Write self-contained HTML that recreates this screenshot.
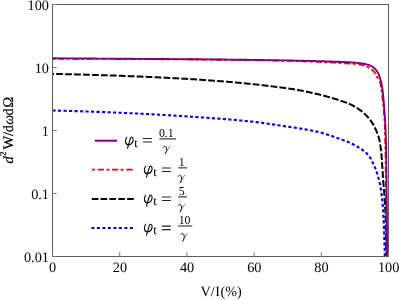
<!DOCTYPE html>
<html><head><meta charset="utf-8"><style>
html,body{margin:0;padding:0;background:#fff;}
body{width:399px;height:300px;overflow:hidden;}
svg{display:block;}
text{font-family:"Liberation Serif",serif;fill:#000;text-rendering:geometricPrecision;}
</style></head><body>
<svg width="399" height="300" viewBox="0 0 399 300">
<defs><filter id="ga" filterUnits="userSpaceOnUse" x="0" y="0" width="399" height="300"><feOffset dx="0" dy="0"/></filter></defs>
<rect width="399" height="300" fill="#fff"/>

<g fill="none" stroke-linejoin="round">
<path d="M52.50,110.50 L53.57,110.52 L54.64,110.55 L55.71,110.57 L56.78,110.60 L57.85,110.63 L58.92,110.65 L59.99,110.68 L61.05,110.71 L62.12,110.73 L63.19,110.76 L64.26,110.79 L65.33,110.82 L66.40,110.85 L67.47,110.88 L68.54,110.91 L69.61,110.94 L70.68,110.97 L71.75,111.00 L72.82,111.04 L73.88,111.07 L74.95,111.10 L76.02,111.13 L77.09,111.17 L78.16,111.20 L79.23,111.23 L80.30,111.27 L81.37,111.30 L82.44,111.34 L83.51,111.37 L84.57,111.41 L85.64,111.45 L86.71,111.48 L87.78,111.52 L88.85,111.56 L89.92,111.59 L90.99,111.63 L92.06,111.67 L93.13,111.71 L94.19,111.75 L95.26,111.79 L96.33,111.83 L97.40,111.87 L98.47,111.91 L99.54,111.95 L100.61,111.99 L101.67,112.03 L102.74,112.07 L103.81,112.11 L104.88,112.15 L105.95,112.19 L107.02,112.24 L108.09,112.28 L109.15,112.32 L110.22,112.36 L111.29,112.41 L112.36,112.45 L113.43,112.49 L114.50,112.54 L115.57,112.58 L116.63,112.63 L117.70,112.67 L118.77,112.72 L119.84,112.76 L120.91,112.81 L121.98,112.85 L123.04,112.90 L124.11,112.94 L125.18,112.99 L126.25,113.04 L127.32,113.08 L128.39,113.13 L129.45,113.18 L130.52,113.22 L131.59,113.27 L132.66,113.32 L133.73,113.37 L134.79,113.42 L135.86,113.47 L136.93,113.52 L138.00,113.57 L139.07,113.62 L140.13,113.67 L141.20,113.72 L142.27,113.78 L143.34,113.83 L144.41,113.88 L145.47,113.94 L146.54,113.99 L147.61,114.05 L148.68,114.11 L149.75,114.16 L150.81,114.22 L151.88,114.28 L152.95,114.34 L154.02,114.39 L155.09,114.45 L156.15,114.51 L157.22,114.57 L158.29,114.63 L159.36,114.69 L160.43,114.75 L161.49,114.82 L162.56,114.88 L163.63,114.94 L164.70,115.00 L165.76,115.07 L166.83,115.13 L167.90,115.20 L168.97,115.26 L170.04,115.33 L171.10,115.39 L172.17,115.46 L173.24,115.52 L174.31,115.59 L175.37,115.66 L176.44,115.72 L177.51,115.79 L178.58,115.86 L179.64,115.93 L180.71,116.00 L181.78,116.07 L182.84,116.13 L183.91,116.20 L184.98,116.27 L186.05,116.34 L187.11,116.42 L188.18,116.49 L189.25,116.56 L190.32,116.63 L191.38,116.70 L192.45,116.77 L193.52,116.85 L194.58,116.92 L195.65,116.99 L196.72,117.07 L197.78,117.14 L198.85,117.21 L199.92,117.29 L200.98,117.36 L202.05,117.44 L203.12,117.51 L204.19,117.59 L205.25,117.66 L206.32,117.74 L207.38,117.81 L208.45,117.89 L209.52,117.97 L210.58,118.04 L211.65,118.12 L212.72,118.20 L213.78,118.27 L214.85,118.35 L215.92,118.43 L216.98,118.51 L218.05,118.59 L219.12,118.67 L220.18,118.75 L221.25,118.83 L222.32,118.91 L223.38,119.00 L224.45,119.08 L225.52,119.17 L226.58,119.25 L227.65,119.34 L228.72,119.42 L229.78,119.51 L230.85,119.60 L231.92,119.69 L232.98,119.78 L234.05,119.87 L235.11,119.97 L236.18,120.06 L237.24,120.16 L238.31,120.25 L239.37,120.35 L240.44,120.45 L241.50,120.55 L242.57,120.65 L243.63,120.75 L244.70,120.86 L245.76,120.96 L246.82,121.07 L247.89,121.18 L248.95,121.29 L250.01,121.40 L251.07,121.52 L252.14,121.63 L253.20,121.75 L254.26,121.88 L255.32,122.00 L256.38,122.13 L257.44,122.27 L258.50,122.40 L259.56,122.54 L260.62,122.68 L261.68,122.82 L262.74,122.96 L263.80,123.11 L264.86,123.26 L265.92,123.41 L266.98,123.56 L268.04,123.71 L269.09,123.87 L270.15,124.02 L271.21,124.18 L272.27,124.34 L273.33,124.49 L274.39,124.65 L275.44,124.81 L276.50,124.97 L277.56,125.13 L278.62,125.29 L279.68,125.45 L280.73,125.61 L281.79,125.77 L282.85,125.93 L283.91,126.09 L284.97,126.25 L286.02,126.41 L287.08,126.57 L288.14,126.73 L289.20,126.88 L290.26,127.04 L291.32,127.19 L292.37,127.34 L293.43,127.50 L294.49,127.65 L295.55,127.80 L296.61,127.96 L297.66,128.12 L298.72,128.29 L299.78,128.46 L300.83,128.64 L301.88,128.82 L302.94,129.00 L303.99,129.18 L305.05,129.36 L306.10,129.55 L307.16,129.74 L308.21,129.93 L309.27,130.12 L310.32,130.32 L311.37,130.53 L312.42,130.73 L313.47,130.95 L314.52,131.16 L315.56,131.39 L316.61,131.61 L317.65,131.85 L318.69,132.09 L319.72,132.33 L320.76,132.59 L321.79,132.86 L322.82,133.15 L323.85,133.45 L324.87,133.75 L325.90,134.07 L326.92,134.40 L327.94,134.73 L328.95,135.06 L329.97,135.39 L330.98,135.73 L332.00,136.07 L333.00,136.43 L334.01,136.79 L335.02,137.15 L336.02,137.52 L337.03,137.89 L338.03,138.27 L339.03,138.64 L340.03,139.01 L341.04,139.38 L342.05,139.74 L343.06,140.10 L344.07,140.46 L345.08,140.83 L346.08,141.20 L347.08,141.58 L348.07,141.98 L349.06,142.39 L350.03,142.81 L351.00,143.26 L351.96,143.72 L352.91,144.20 L353.87,144.70 L354.81,145.21 L355.75,145.73 L356.68,146.26 L357.61,146.81 L358.52,147.37 L359.43,147.93 L360.32,148.51 L361.21,149.10 L362.11,149.70 L362.99,150.33 L363.85,150.97 L364.69,151.64 L365.49,152.33 L366.26,153.05 L367.01,153.81 L367.73,154.61 L368.42,155.44 L369.09,156.30 L369.71,157.16 L370.29,158.05 L370.83,158.95 L371.35,159.88 L371.84,160.84 L372.32,161.80 L372.78,162.77 L373.24,163.75 L373.69,164.73 L374.14,165.70 L374.59,166.67 L375.03,167.64 L375.46,168.63 L375.86,169.62 L376.22,170.62 L376.57,171.63 L376.90,172.65 L377.21,173.67 L377.51,174.70 L377.81,175.73 L378.10,176.76 L378.39,177.79 L378.68,178.82 L378.96,179.85 L379.23,180.89 L379.48,181.93 L379.72,182.97 L379.94,184.01 L380.14,185.06 L380.33,186.11 L380.51,187.17 L380.69,188.22 L380.85,189.28 L381.00,190.34 L381.15,191.40 L381.30,192.46 L381.44,193.52 L381.57,194.58 L381.71,195.64 L381.84,196.70 L381.97,197.77 L382.10,198.83 L382.22,199.89 L382.33,200.95 L382.44,202.02 L382.55,203.08 L382.65,204.15 L382.74,205.21 L382.82,206.28 L382.90,207.34 L382.97,208.41 L383.04,209.48 L383.11,210.55 L383.17,211.61 L383.23,212.68 L383.29,213.75 L383.35,214.82 L383.40,215.89 L383.45,216.95 L383.51,218.02 L383.56,219.09 L383.61,220.16 L383.66,221.23 L383.71,222.30 L383.75,223.36 L383.80,224.43 L383.84,225.50 L383.89,226.57 L383.93,227.64 L383.97,228.71 L384.01,229.78 L384.05,230.84 L384.09,231.91 L384.13,232.98 L384.17,234.05 L384.20,235.12 L384.24,236.19 L384.27,237.26 L384.31,238.33 L384.34,239.39 L384.38,240.46 L384.41,241.53 L384.44,242.60 L384.47,243.67 L384.50,244.74 L384.54,245.81 L384.57,246.88 L384.59,247.95 L384.62,249.02 L384.65,250.08 L384.68,251.15 L384.70,252.22 L384.73,253.29 L384.75,254.36 L384.78,255.43 L384.80,256.50" stroke="#0000ff" stroke-width="2.1" stroke-dasharray="3.2 2.3"/>
<path d="M52.50,73.90 L53.67,73.92 L54.83,73.94 L56.00,73.96 L57.16,73.98 L58.33,74.01 L59.49,74.03 L60.66,74.05 L61.82,74.08 L62.99,74.10 L64.15,74.13 L65.32,74.15 L66.48,74.18 L67.65,74.20 L68.81,74.23 L69.98,74.26 L71.14,74.29 L72.31,74.31 L73.47,74.34 L74.64,74.37 L75.80,74.40 L76.97,74.43 L78.13,74.46 L79.30,74.49 L80.46,74.52 L81.63,74.55 L82.79,74.59 L83.96,74.62 L85.12,74.65 L86.29,74.68 L87.45,74.72 L88.62,74.75 L89.78,74.78 L90.95,74.82 L92.11,74.85 L93.28,74.89 L94.44,74.93 L95.61,74.96 L96.77,75.00 L97.94,75.03 L99.10,75.07 L100.27,75.11 L101.43,75.15 L102.60,75.18 L103.76,75.22 L104.93,75.26 L106.09,75.30 L107.25,75.34 L108.42,75.38 L109.58,75.42 L110.75,75.46 L111.91,75.50 L113.08,75.54 L114.24,75.58 L115.41,75.62 L116.57,75.66 L117.73,75.70 L118.90,75.74 L120.06,75.78 L121.23,75.83 L122.39,75.87 L123.56,75.91 L124.72,75.95 L125.89,76.00 L127.05,76.04 L128.21,76.08 L129.38,76.13 L130.54,76.17 L131.71,76.21 L132.87,76.26 L134.04,76.30 L135.20,76.35 L136.36,76.40 L137.53,76.44 L138.69,76.49 L139.86,76.54 L141.02,76.59 L142.19,76.63 L143.35,76.68 L144.52,76.73 L145.68,76.78 L146.84,76.83 L148.01,76.88 L149.17,76.94 L150.34,76.99 L151.50,77.04 L152.67,77.09 L153.83,77.15 L155.00,77.20 L156.16,77.26 L157.32,77.31 L158.49,77.37 L159.65,77.42 L160.82,77.48 L161.98,77.54 L163.15,77.60 L164.31,77.65 L165.47,77.71 L166.64,77.77 L167.80,77.83 L168.97,77.89 L170.13,77.95 L171.30,78.02 L172.46,78.08 L173.62,78.14 L174.79,78.20 L175.95,78.27 L177.12,78.33 L178.28,78.40 L179.44,78.46 L180.61,78.53 L181.77,78.60 L182.93,78.66 L184.10,78.73 L185.26,78.80 L186.42,78.87 L187.59,78.94 L188.75,79.01 L189.91,79.08 L191.08,79.15 L192.24,79.22 L193.40,79.30 L194.56,79.37 L195.73,79.44 L196.89,79.52 L198.05,79.59 L199.22,79.67 L200.38,79.75 L201.54,79.82 L202.70,79.90 L203.86,79.98 L205.03,80.06 L206.19,80.14 L207.35,80.22 L208.51,80.30 L209.67,80.38 L210.83,80.46 L211.99,80.54 L213.16,80.63 L214.32,80.71 L215.48,80.80 L216.64,80.88 L217.80,80.97 L218.97,81.06 L220.13,81.15 L221.29,81.24 L222.45,81.33 L223.61,81.43 L224.78,81.52 L225.94,81.62 L227.10,81.71 L228.26,81.81 L229.42,81.91 L230.59,82.01 L231.75,82.11 L232.91,82.21 L234.07,82.32 L235.23,82.42 L236.40,82.53 L237.56,82.63 L238.72,82.74 L239.88,82.85 L241.04,82.96 L242.20,83.07 L243.36,83.18 L244.53,83.29 L245.69,83.41 L246.85,83.52 L248.01,83.64 L249.17,83.76 L250.33,83.88 L251.49,84.00 L252.65,84.12 L253.81,84.24 L254.97,84.37 L256.13,84.49 L257.29,84.62 L258.45,84.74 L259.61,84.87 L260.77,85.00 L261.93,85.13 L263.08,85.27 L264.24,85.40 L265.40,85.53 L266.56,85.67 L267.72,85.81 L268.87,85.95 L270.03,86.08 L271.19,86.23 L272.34,86.37 L273.50,86.51 L274.66,86.66 L275.81,86.80 L276.97,86.95 L278.12,87.10 L279.28,87.25 L280.43,87.40 L281.58,87.55 L282.74,87.70 L283.89,87.86 L285.04,88.01 L286.20,88.17 L287.35,88.33 L288.50,88.49 L289.65,88.65 L290.80,88.82 L291.95,88.99 L293.10,89.17 L294.25,89.35 L295.40,89.54 L296.55,89.74 L297.70,89.95 L298.85,90.16 L299.99,90.37 L301.14,90.59 L302.29,90.81 L303.43,91.04 L304.57,91.27 L305.72,91.50 L306.86,91.74 L308.00,91.98 L309.14,92.22 L310.28,92.46 L311.41,92.71 L312.55,92.96 L313.69,93.21 L314.82,93.48 L315.96,93.74 L317.09,94.01 L318.23,94.29 L319.36,94.57 L320.49,94.85 L321.62,95.14 L322.75,95.44 L323.88,95.73 L325.00,96.03 L326.13,96.33 L327.25,96.64 L328.38,96.95 L329.50,97.26 L330.62,97.57 L331.74,97.90 L332.86,98.23 L333.97,98.56 L335.09,98.91 L336.20,99.26 L337.31,99.61 L338.42,99.97 L339.52,100.34 L340.63,100.71 L341.73,101.08 L342.84,101.46 L343.95,101.84 L345.05,102.23 L346.15,102.63 L347.24,103.04 L348.32,103.47 L349.39,103.93 L350.44,104.40 L351.49,104.90 L352.53,105.43 L353.57,105.97 L354.60,106.54 L355.62,107.13 L356.62,107.74 L357.61,108.36 L358.58,109.01 L359.53,109.66 L360.46,110.34 L361.38,111.04 L362.29,111.77 L363.18,112.53 L364.06,113.31 L364.92,114.12 L365.76,114.94 L366.59,115.77 L367.38,116.62 L368.16,117.48 L368.91,118.36 L369.64,119.26 L370.36,120.19 L371.05,121.14 L371.71,122.11 L372.34,123.09 L372.94,124.07 L373.53,125.08 L374.09,126.10 L374.63,127.14 L375.15,128.19 L375.65,129.25 L376.12,130.32 L376.56,131.39 L376.99,132.47 L377.42,133.56 L377.83,134.66 L378.22,135.77 L378.58,136.88 L378.91,138.00 L379.20,139.12 L379.45,140.25 L379.68,141.38 L379.89,142.52 L380.09,143.67 L380.27,144.82 L380.45,145.98 L380.61,147.13 L380.77,148.29 L380.91,149.46 L381.05,150.62 L381.18,151.78 L381.30,152.94 L381.41,154.10 L381.52,155.26 L381.61,156.42 L381.71,157.58 L381.80,158.74 L381.88,159.91 L381.96,161.07 L382.03,162.23 L382.11,163.40 L382.18,164.56 L382.26,165.72 L382.33,166.89 L382.40,168.05 L382.48,169.21 L382.55,170.38 L382.61,171.54 L382.68,172.70 L382.74,173.87 L382.81,175.03 L382.88,176.19 L382.96,177.36 L383.04,178.52 L383.12,179.68 L383.22,180.84 L383.32,182.00 L383.42,183.16 L383.52,184.32 L383.62,185.49 L383.73,186.65 L383.83,187.81 L383.92,188.97 L384.01,190.13 L384.10,191.29 L384.18,192.45 L384.27,193.62 L384.36,194.78 L384.45,195.94 L384.53,197.10 L384.62,198.27 L384.70,199.43 L384.78,200.59 L384.86,201.75 L384.93,202.92 L385.00,204.08 L385.06,205.24 L385.13,206.41 L385.18,207.57 L385.23,208.73 L385.28,209.90 L385.32,211.06 L385.37,212.23 L385.41,213.39 L385.44,214.56 L385.48,215.72 L385.52,216.89 L385.55,218.05 L385.58,219.22 L385.61,220.38 L385.64,221.55 L385.67,222.71 L385.70,223.88 L385.73,225.04 L385.76,226.21 L385.78,227.37 L385.81,228.54 L385.84,229.70 L385.87,230.87 L385.89,232.03 L385.92,233.20 L385.95,234.36 L385.97,235.53 L386.00,236.69 L386.02,237.86 L386.04,239.02 L386.07,240.19 L386.09,241.35 L386.11,242.52 L386.13,243.68 L386.15,244.85 L386.17,246.01 L386.19,247.18 L386.20,248.34 L386.22,249.51 L386.24,250.67 L386.25,251.84 L386.27,253.00 L386.28,254.17 L386.29,255.33 L386.30,256.50" stroke="#000" stroke-width="2" stroke-dasharray="6.8 2.15" stroke-dashoffset="5.3"/>
<path d="M52.50,58.75 L53.78,58.75 L55.06,58.76 L56.34,58.76 L57.62,58.76 L58.89,58.76 L60.17,58.77 L61.45,58.77 L62.73,58.77 L64.01,58.78 L65.29,58.78 L66.57,58.79 L67.85,58.79 L69.13,58.79 L70.40,58.80 L71.68,58.80 L72.96,58.80 L74.24,58.81 L75.52,58.81 L76.80,58.82 L78.08,58.82 L79.36,58.83 L80.64,58.83 L81.91,58.84 L83.19,58.84 L84.47,58.84 L85.75,58.85 L87.03,58.85 L88.31,58.86 L89.59,58.86 L90.87,58.87 L92.15,58.87 L93.42,58.88 L94.70,58.88 L95.98,58.89 L97.26,58.90 L98.54,58.90 L99.82,58.91 L101.10,58.91 L102.38,58.92 L103.66,58.92 L104.93,58.93 L106.21,58.93 L107.49,58.94 L108.77,58.95 L110.05,58.95 L111.33,58.96 L112.61,58.96 L113.89,58.97 L115.17,58.98 L116.45,58.98 L117.72,58.99 L119.00,59.00 L120.28,59.00 L121.56,59.01 L122.84,59.01 L124.12,59.02 L125.40,59.03 L126.68,59.03 L127.95,59.04 L129.23,59.05 L130.51,59.05 L131.79,59.06 L133.07,59.07 L134.35,59.07 L135.63,59.08 L136.91,59.09 L138.19,59.09 L139.46,59.10 L140.74,59.11 L142.02,59.12 L143.30,59.12 L144.58,59.13 L145.86,59.14 L147.14,59.15 L148.42,59.15 L149.70,59.16 L150.98,59.17 L152.25,59.18 L153.53,59.19 L154.81,59.19 L156.09,59.20 L157.37,59.21 L158.65,59.22 L159.93,59.23 L161.21,59.24 L162.49,59.25 L163.76,59.25 L165.04,59.26 L166.32,59.27 L167.60,59.28 L168.88,59.29 L170.16,59.30 L171.44,59.31 L172.72,59.32 L173.99,59.33 L175.27,59.34 L176.55,59.35 L177.83,59.36 L179.11,59.37 L180.39,59.38 L181.67,59.39 L182.95,59.40 L184.23,59.41 L185.50,59.42 L186.78,59.43 L188.06,59.44 L189.34,59.46 L190.62,59.47 L191.90,59.48 L193.18,59.49 L194.46,59.50 L195.74,59.51 L197.01,59.52 L198.29,59.54 L199.57,59.55 L200.85,59.56 L202.13,59.57 L203.41,59.58 L204.69,59.60 L205.97,59.61 L207.25,59.62 L208.52,59.64 L209.80,59.65 L211.08,59.66 L212.36,59.67 L213.64,59.69 L214.92,59.70 L216.20,59.71 L217.48,59.73 L218.75,59.74 L220.03,59.76 L221.31,59.77 L222.59,59.78 L223.87,59.80 L225.15,59.81 L226.43,59.83 L227.71,59.84 L228.99,59.86 L230.26,59.87 L231.54,59.89 L232.82,59.91 L234.10,59.92 L235.38,59.94 L236.66,59.95 L237.94,59.97 L239.22,59.99 L240.50,60.00 L241.78,60.02 L243.05,60.04 L244.33,60.06 L245.61,60.08 L246.89,60.09 L248.17,60.11 L249.45,60.13 L250.73,60.15 L252.01,60.17 L253.29,60.19 L254.56,60.21 L255.84,60.23 L257.12,60.25 L258.40,60.27 L259.68,60.29 L260.96,60.32 L262.24,60.34 L263.52,60.36 L264.79,60.38 L266.07,60.40 L267.35,60.43 L268.63,60.45 L269.91,60.48 L271.19,60.50 L272.47,60.52 L273.74,60.55 L275.02,60.57 L276.30,60.60 L277.58,60.63 L278.86,60.65 L280.14,60.68 L281.42,60.71 L282.69,60.73 L283.97,60.76 L285.25,60.79 L286.53,60.82 L287.81,60.85 L289.09,60.88 L290.36,60.91 L291.64,60.94 L292.92,60.97 L294.20,61.01 L295.48,61.04 L296.76,61.08 L298.03,61.12 L299.31,61.16 L300.59,61.20 L301.87,61.24 L303.15,61.28 L304.43,61.33 L305.70,61.37 L306.98,61.42 L308.26,61.47 L309.54,61.51 L310.82,61.56 L312.10,61.62 L313.37,61.67 L314.65,61.72 L315.93,61.78 L317.21,61.83 L318.49,61.89 L319.76,61.95 L321.04,62.01 L322.32,62.07 L323.60,62.13 L324.87,62.19 L326.15,62.25 L327.43,62.32 L328.71,62.38 L329.98,62.45 L331.26,62.52 L332.54,62.58 L333.81,62.65 L335.09,62.72 L336.37,62.79 L337.64,62.87 L338.92,62.94 L340.20,63.01 L341.48,63.08 L342.76,63.16 L344.04,63.23 L345.33,63.30 L346.62,63.38 L347.91,63.45 L349.20,63.54 L350.48,63.63 L351.76,63.72 L353.04,63.83 L354.31,63.94 L355.58,64.06 L356.84,64.20 L358.10,64.35 L359.34,64.51 L360.58,64.69 L361.82,64.95 L363.08,65.27 L364.32,65.67 L365.56,66.12 L366.77,66.61 L367.94,67.14 L369.08,67.71 L370.17,68.29 L371.23,68.99 L372.25,69.82 L373.19,70.72 L374.01,71.66 L374.73,72.67 L375.38,73.76 L376.00,74.90 L376.59,76.07 L377.18,77.23 L377.80,78.35 L378.49,79.46 L379.17,80.56 L379.78,81.69 L380.22,82.86 L380.51,84.08 L380.74,85.35 L380.94,86.63 L381.14,87.89 L381.33,89.15 L381.51,90.42 L381.68,91.69 L381.84,92.96 L382.00,94.23 L382.16,95.50 L382.33,96.76 L382.49,98.03 L382.65,99.30 L382.81,100.57 L382.96,101.84 L383.11,103.11 L383.24,104.38 L383.37,105.66 L383.48,106.93 L383.58,108.20 L383.68,109.48 L383.77,110.75 L383.86,112.03 L383.95,113.31 L384.04,114.58 L384.15,115.86 L384.25,117.13 L384.36,118.41 L384.46,119.68 L384.54,120.96 L384.61,122.23 L384.67,123.51 L384.73,124.79 L384.78,126.07 L384.83,127.34 L384.87,128.62 L384.92,129.90 L384.96,131.18 L385.00,132.46 L385.03,133.74 L385.07,135.02 L385.10,136.29 L385.14,137.57 L385.17,138.85 L385.20,140.13 L385.23,141.41 L385.27,142.69 L385.30,143.97 L385.33,145.24 L385.36,146.52 L385.38,147.80 L385.41,149.08 L385.44,150.36 L385.46,151.64 L385.49,152.92 L385.51,154.19 L385.53,155.47 L385.55,156.75 L385.57,158.03 L385.59,159.31 L385.61,160.59 L385.62,161.87 L385.64,163.15 L385.65,164.42 L385.67,165.70 L385.68,166.98 L385.69,168.26 L385.70,169.54 L385.71,170.82 L385.72,172.10 L385.74,173.38 L385.75,174.66 L385.76,175.93 L385.77,177.21 L385.78,178.49 L385.80,179.77 L385.81,181.05 L385.83,182.33 L385.84,183.61 L385.86,184.89 L385.87,186.16 L385.89,187.44 L385.90,188.72 L385.92,190.00 L385.93,191.28 L385.95,192.56 L385.97,193.84 L385.98,195.12 L386.00,196.40 L386.02,197.67 L386.03,198.95 L386.05,200.23 L386.07,201.51 L386.08,202.79 L386.10,204.07 L386.12,205.35 L386.13,206.63 L386.15,207.90 L386.17,209.18 L386.18,210.46 L386.20,211.74 L386.22,213.02 L386.23,214.30 L386.25,215.58 L386.26,216.86 L386.28,218.14 L386.29,219.41 L386.31,220.69 L386.32,221.97 L386.34,223.25 L386.35,224.53 L386.37,225.81 L386.38,227.09 L386.40,228.37 L386.41,229.64 L386.43,230.92 L386.44,232.20 L386.45,233.48 L386.47,234.76 L386.48,236.04 L386.50,237.32 L386.51,238.60 L386.52,239.88 L386.54,241.15 L386.55,242.43 L386.57,243.71 L386.58,244.99 L386.59,246.27 L386.61,247.55 L386.62,248.83 L386.63,250.11 L386.65,251.38 L386.66,252.66 L386.67,253.94 L386.69,255.22 L386.70,256.50" stroke="#ff0000" stroke-width="1.8" stroke-dasharray="3 2.7 6.3 2.3"/>
<path d="M52.50,58.30 L53.79,58.31 L55.07,58.32 L56.36,58.32 L57.65,58.33 L58.93,58.34 L60.22,58.35 L61.50,58.35 L62.79,58.36 L64.08,58.37 L65.36,58.38 L66.65,58.39 L67.94,58.39 L69.22,58.40 L70.51,58.41 L71.79,58.42 L73.08,58.43 L74.37,58.43 L75.65,58.44 L76.94,58.45 L78.23,58.46 L79.51,58.47 L80.80,58.47 L82.08,58.48 L83.37,58.49 L84.66,58.50 L85.94,58.51 L87.23,58.51 L88.52,58.52 L89.80,58.53 L91.09,58.54 L92.38,58.55 L93.66,58.56 L94.95,58.56 L96.23,58.57 L97.52,58.58 L98.81,58.59 L100.09,58.60 L101.38,58.61 L102.67,58.61 L103.95,58.62 L105.24,58.63 L106.52,58.64 L107.81,58.65 L109.10,58.66 L110.38,58.67 L111.67,58.67 L112.96,58.68 L114.24,58.69 L115.53,58.70 L116.81,58.71 L118.10,58.72 L119.39,58.73 L120.67,58.74 L121.96,58.74 L123.25,58.75 L124.53,58.76 L125.82,58.77 L127.11,58.78 L128.39,58.79 L129.68,58.80 L130.96,58.81 L132.25,58.82 L133.54,58.82 L134.82,58.83 L136.11,58.84 L137.40,58.85 L138.68,58.86 L139.97,58.87 L141.25,58.88 L142.54,58.89 L143.83,58.89 L145.11,58.90 L146.40,58.91 L147.69,58.92 L148.97,58.93 L150.26,58.94 L151.54,58.95 L152.83,58.95 L154.12,58.96 L155.40,58.97 L156.69,58.98 L157.98,58.99 L159.26,59.00 L160.55,59.01 L161.83,59.02 L163.12,59.02 L164.41,59.03 L165.69,59.04 L166.98,59.05 L168.27,59.06 L169.55,59.07 L170.84,59.08 L172.13,59.09 L173.41,59.10 L174.70,59.11 L175.98,59.12 L177.27,59.12 L178.56,59.13 L179.84,59.14 L181.13,59.15 L182.42,59.16 L183.70,59.17 L184.99,59.18 L186.27,59.19 L187.56,59.20 L188.85,59.21 L190.13,59.22 L191.42,59.23 L192.71,59.25 L193.99,59.26 L195.28,59.27 L196.56,59.28 L197.85,59.29 L199.14,59.30 L200.42,59.31 L201.71,59.32 L203.00,59.33 L204.28,59.35 L205.57,59.36 L206.85,59.37 L208.14,59.38 L209.43,59.39 L210.71,59.41 L212.00,59.42 L213.29,59.43 L214.57,59.45 L215.86,59.46 L217.14,59.47 L218.43,59.48 L219.72,59.50 L221.00,59.51 L222.29,59.53 L223.58,59.54 L224.86,59.55 L226.15,59.57 L227.43,59.58 L228.72,59.60 L230.01,59.61 L231.29,59.63 L232.58,59.64 L233.87,59.66 L235.15,59.67 L236.44,59.69 L237.72,59.70 L239.01,59.72 L240.30,59.74 L241.58,59.75 L242.87,59.77 L244.16,59.79 L245.44,59.80 L246.73,59.82 L248.01,59.84 L249.30,59.85 L250.59,59.87 L251.87,59.89 L253.16,59.91 L254.45,59.93 L255.73,59.94 L257.02,59.96 L258.30,59.98 L259.59,60.00 L260.88,60.02 L262.16,60.04 L263.45,60.06 L264.74,60.08 L266.02,60.10 L267.31,60.12 L268.59,60.14 L269.88,60.16 L271.17,60.18 L272.45,60.20 L273.74,60.22 L275.02,60.24 L276.31,60.26 L277.60,60.28 L278.88,60.30 L280.17,60.33 L281.46,60.35 L282.74,60.37 L284.03,60.39 L285.31,60.42 L286.60,60.44 L287.89,60.46 L289.17,60.48 L290.46,60.51 L291.74,60.53 L293.03,60.56 L294.32,60.58 L295.60,60.61 L296.89,60.63 L298.17,60.66 L299.46,60.69 L300.75,60.72 L302.03,60.74 L303.32,60.77 L304.60,60.80 L305.89,60.83 L307.18,60.86 L308.46,60.90 L309.75,60.93 L311.03,60.96 L312.32,60.99 L313.61,61.03 L314.89,61.06 L316.18,61.09 L317.46,61.13 L318.75,61.17 L320.04,61.20 L321.32,61.24 L322.61,61.28 L323.89,61.31 L325.18,61.35 L326.46,61.39 L327.75,61.43 L329.04,61.47 L330.32,61.51 L331.61,61.55 L332.89,61.59 L334.18,61.63 L335.47,61.67 L336.75,61.72 L338.04,61.76 L339.32,61.81 L340.61,61.85 L341.90,61.90 L343.18,61.96 L344.47,62.01 L345.75,62.07 L347.03,62.14 L348.32,62.20 L349.60,62.28 L350.88,62.35 L352.17,62.44 L353.45,62.54 L354.74,62.65 L356.02,62.77 L357.31,62.91 L358.58,63.05 L359.86,63.21 L361.13,63.38 L362.40,63.56 L363.68,63.77 L364.96,64.03 L366.23,64.32 L367.49,64.65 L368.70,65.02 L369.87,65.44 L371.04,65.98 L372.20,66.64 L373.32,67.38 L374.35,68.20 L375.27,69.05 L376.05,69.95 L376.78,70.97 L377.47,72.08 L378.10,73.25 L378.67,74.46 L379.18,75.68 L379.63,76.88 L380.03,78.08 L380.40,79.30 L380.74,80.55 L381.05,81.80 L381.34,83.07 L381.61,84.34 L381.86,85.61 L382.08,86.87 L382.29,88.14 L382.48,89.41 L382.64,90.69 L382.80,91.97 L382.93,93.25 L383.06,94.53 L383.18,95.81 L383.29,97.09 L383.40,98.37 L383.51,99.65 L383.61,100.94 L383.72,102.22 L383.83,103.50 L383.93,104.78 L384.04,106.06 L384.14,107.35 L384.24,108.63 L384.34,109.91 L384.44,111.19 L384.54,112.48 L384.63,113.76 L384.73,115.04 L384.83,116.32 L384.92,117.61 L385.01,118.89 L385.10,120.17 L385.17,121.46 L385.24,122.74 L385.30,124.03 L385.36,125.31 L385.42,126.60 L385.48,127.88 L385.53,129.17 L385.58,130.45 L385.63,131.74 L385.68,133.02 L385.73,134.31 L385.77,135.60 L385.81,136.88 L385.85,138.17 L385.89,139.45 L385.92,140.74 L385.95,142.02 L385.98,143.31 L386.02,144.60 L386.05,145.88 L386.07,147.17 L386.10,148.45 L386.13,149.74 L386.15,151.03 L386.18,152.31 L386.20,153.60 L386.22,154.88 L386.24,156.17 L386.26,157.46 L386.28,158.74 L386.30,160.03 L386.32,161.32 L386.33,162.60 L386.35,163.89 L386.36,165.17 L386.37,166.46 L386.39,167.75 L386.40,169.03 L386.41,170.32 L386.42,171.61 L386.43,172.89 L386.45,174.18 L386.46,175.46 L386.47,176.75 L386.48,178.04 L386.49,179.32 L386.51,180.61 L386.52,181.90 L386.53,183.18 L386.55,184.47 L386.56,185.75 L386.57,187.04 L386.59,188.33 L386.60,189.61 L386.62,190.90 L386.63,192.19 L386.64,193.47 L386.66,194.76 L386.67,196.04 L386.69,197.33 L386.70,198.62 L386.71,199.90 L386.73,201.19 L386.74,202.48 L386.75,203.76 L386.77,205.05 L386.78,206.33 L386.79,207.62 L386.81,208.91 L386.82,210.19 L386.83,211.48 L386.84,212.77 L386.85,214.05 L386.86,215.34 L386.87,216.62 L386.88,217.91 L386.89,219.20 L386.90,220.48 L386.91,221.77 L386.92,223.06 L386.93,224.34 L386.94,225.63 L386.95,226.91 L386.96,228.20 L386.96,229.49 L386.97,230.77 L386.98,232.06 L386.99,233.35 L387.00,234.63 L387.00,235.92 L387.01,237.21 L387.02,238.49 L387.03,239.78 L387.03,241.06 L387.04,242.35 L387.05,243.64 L387.05,244.92 L387.06,246.21 L387.06,247.50 L387.07,248.78 L387.08,250.07 L387.08,251.35 L387.09,252.64 L387.09,253.93 L387.10,255.21 L387.10,256.50" stroke="#800080" stroke-width="1.9"/>
</g>
<g stroke="#5c5c5c" stroke-width="1" fill="none">
<rect x="52.5" y="4.5" width="336.0" height="252.0"/>
<line x1="52.50" y1="256.5" x2="52.50" y2="252.3" stroke="#777"/>
<line x1="119.70" y1="256.5" x2="119.70" y2="252.3" stroke="#777"/>
<line x1="186.90" y1="256.5" x2="186.90" y2="252.3" stroke="#777"/>
<line x1="254.10" y1="256.5" x2="254.10" y2="252.3" stroke="#777"/>
<line x1="321.30" y1="256.5" x2="321.30" y2="252.3" stroke="#777"/>
<line x1="388.50" y1="256.5" x2="388.50" y2="252.3" stroke="#777"/>
<line x1="52.5" y1="4.50" x2="56.7" y2="4.50" stroke="#777"/>
<line x1="52.5" y1="67.50" x2="56.7" y2="67.50" stroke="#777"/>
<line x1="52.5" y1="130.50" x2="56.7" y2="130.50" stroke="#777"/>
<line x1="52.5" y1="193.50" x2="56.7" y2="193.50" stroke="#777"/>
<line x1="52.5" y1="256.50" x2="56.7" y2="256.50" stroke="#777"/>
</g>
<g filter="url(#ga)" style="will-change:transform">
<g font-size="14.3">
<text x="52.70" y="272.3" text-anchor="middle">0</text>
<text x="119.90" y="272.3" text-anchor="middle">20</text>
<text x="187.10" y="272.3" text-anchor="middle">40</text>
<text x="254.30" y="272.3" text-anchor="middle">60</text>
<text x="321.50" y="272.3" text-anchor="middle">80</text>
<text x="388.70" y="272.3" text-anchor="middle">100</text>
<text x="49.0" y="9.60" text-anchor="end">100</text>
<text x="49.0" y="72.60" text-anchor="end">10</text>
<text x="49.0" y="135.60" text-anchor="end">1</text>
<text x="49.0" y="198.60" text-anchor="end">0.1</text>
<text x="49.0" y="261.60" text-anchor="end">0.01</text>
</g>
<text x="200.4" y="296.3" font-size="14.2">V/<tspan dx="0.7">I</tspan><tspan dx="0.45">(%)</tspan></text>
<g transform="translate(12.7,0) rotate(-90)" stroke="#000" stroke-width="0.2">
<text x="-163.6" y="0" font-size="14.3" font-style="italic">d</text>
<text x="-156.0" y="-6.3" font-size="9" font-style="normal">2</text>
<text x="-149.5" y="0" font-size="14.6" font-style="normal">W</text>
<text x="-136.1" y="0" font-size="14.3" font-style="normal">/</text>
<text x="-132.2" y="0" font-size="14.2" font-style="normal">d</text>
<text x="-124.8" y="0" font-size="14" font-style="italic">ω</text>
<text x="-115.6" y="0" font-size="14.2" font-style="normal">d</text>
<text x="-107.8" y="0" font-size="14.8" font-style="normal">Ω</text>
</g>
<line x1="94.8" y1="140.7" x2="117" y2="140.7" stroke="#800080" stroke-width="2.0"/>
<path transform="translate(125.35,139.25) scale(0.92,1)" d="M1.5,-1.9 C0.6,-0.9 0.1,0.8 0.2,2.4 C0.3,4.2 1.2,5.4 3.2,5.5 C5.5,5.6 7.6,3.9 8.3,1.6 C8.9,-0.4 8.2,-2.0 6.9,-2.1 C6.0,-2.2 5.7,-1.5 5.4,-0.5 L2.4,8.8" fill="none" stroke="#111" stroke-width="1.25" stroke-linecap="round" stroke-linejoin="round"/>
<text x="134.20" y="146.60" font-size="12" stroke="#000" stroke-width="0.15">t</text>
<path d="M143.05,138.50h8.9M143.05,142.00h8.9" stroke="#222" stroke-width="1.05" fill="none"/>
<line x1="159.30" y1="138.90" x2="176.05" y2="138.90" stroke="#333" stroke-width="1.15"/>
<text transform="translate(158.90,136.70) scale(0.97,1)" font-size="12.2">0.1</text>
<g transform="translate(167.68,138.90)" fill="none" stroke="#111" stroke-linecap="round"><path d="M-4.3,8.4 C-3.8,7.6 -3.2,7.2 -2.6,7.4 C-1.4,7.8 -0.8,9.6 -1.0,11.4 C-1.2,12.8 -1.8,14 -2.4,14.9" stroke-width="1.0"/><path d="M2.2,7.3 C0.8,9.4 -0.6,11.6 -2.4,14.9" stroke-width="0.55"/></g>
<line x1="92" y1="169.7" x2="132.8" y2="169.7" stroke="#ff0000" stroke-width="1.8" stroke-dasharray="3 2.7 6.3 2.3"/>
<path transform="translate(144.25,168.20) scale(0.92,1)" d="M1.5,-1.9 C0.6,-0.9 0.1,0.8 0.2,2.4 C0.3,4.2 1.2,5.4 3.2,5.5 C5.5,5.6 7.6,3.9 8.3,1.6 C8.9,-0.4 8.2,-2.0 6.9,-2.1 C6.0,-2.2 5.7,-1.5 5.4,-0.5 L2.4,8.8" fill="none" stroke="#111" stroke-width="1.25" stroke-linecap="round" stroke-linejoin="round"/>
<text x="153.20" y="175.55" font-size="12" stroke="#000" stroke-width="0.15">t</text>
<path d="M161.95,168.00h8.9M161.95,171.50h8.9" stroke="#222" stroke-width="1.05" fill="none"/>
<line x1="178.20" y1="167.85" x2="187.00" y2="167.85" stroke="#333" stroke-width="1.15"/>
<text transform="translate(178.70,165.65) scale(0.97,1)" font-size="12.2">1</text>
<g transform="translate(182.60,167.85)" fill="none" stroke="#111" stroke-linecap="round"><path d="M-4.3,8.4 C-3.8,7.6 -3.2,7.2 -2.6,7.4 C-1.4,7.8 -0.8,9.6 -1.0,11.4 C-1.2,12.8 -1.8,14 -2.4,14.9" stroke-width="1.0"/><path d="M2.2,7.3 C0.8,9.4 -0.6,11.6 -2.4,14.9" stroke-width="0.55"/></g>
<line x1="91.75" y1="199.0" x2="134" y2="199.0" stroke="#000" stroke-width="2" stroke-dasharray="6.6 2.25"/>
<path transform="translate(144.25,197.25) scale(0.92,1)" d="M1.5,-1.9 C0.6,-0.9 0.1,0.8 0.2,2.4 C0.3,4.2 1.2,5.4 3.2,5.5 C5.5,5.6 7.6,3.9 8.3,1.6 C8.9,-0.4 8.2,-2.0 6.9,-2.1 C6.0,-2.2 5.7,-1.5 5.4,-0.5 L2.4,8.8" fill="none" stroke="#111" stroke-width="1.25" stroke-linecap="round" stroke-linejoin="round"/>
<text x="153.20" y="204.60" font-size="12" stroke="#000" stroke-width="0.15">t</text>
<path d="M161.95,197.05h8.9M161.95,200.55h8.9" stroke="#222" stroke-width="1.05" fill="none"/>
<line x1="178.20" y1="196.90" x2="187.00" y2="196.90" stroke="#333" stroke-width="1.15"/>
<text transform="translate(178.65,194.70) scale(0.97,1)" font-size="12.2">5</text>
<g transform="translate(182.60,196.90)" fill="none" stroke="#111" stroke-linecap="round"><path d="M-4.3,8.4 C-3.8,7.6 -3.2,7.2 -2.6,7.4 C-1.4,7.8 -0.8,9.6 -1.0,11.4 C-1.2,12.8 -1.8,14 -2.4,14.9" stroke-width="1.0"/><path d="M2.2,7.3 C0.8,9.4 -0.6,11.6 -2.4,14.9" stroke-width="0.55"/></g>
<line x1="91.4" y1="227.9" x2="133.4" y2="227.9" stroke="#0000ff" stroke-width="2" stroke-dasharray="3 2.5"/>
<path transform="translate(144.25,226.35) scale(0.92,1)" d="M1.5,-1.9 C0.6,-0.9 0.1,0.8 0.2,2.4 C0.3,4.2 1.2,5.4 3.2,5.5 C5.5,5.6 7.6,3.9 8.3,1.6 C8.9,-0.4 8.2,-2.0 6.9,-2.1 C6.0,-2.2 5.7,-1.5 5.4,-0.5 L2.4,8.8" fill="none" stroke="#111" stroke-width="1.25" stroke-linecap="round" stroke-linejoin="round"/>
<text x="153.20" y="233.70" font-size="12" stroke="#000" stroke-width="0.15">t</text>
<path d="M161.95,226.10h8.9M161.95,229.60h8.9" stroke="#222" stroke-width="1.05" fill="none"/>
<line x1="178.20" y1="226.00" x2="192.20" y2="226.00" stroke="#333" stroke-width="1.15"/>
<text transform="translate(178.70,223.80) scale(0.97,1)" font-size="12.2">10</text>
<g transform="translate(185.20,226.00)" fill="none" stroke="#111" stroke-linecap="round"><path d="M-4.3,8.4 C-3.8,7.6 -3.2,7.2 -2.6,7.4 C-1.4,7.8 -0.8,9.6 -1.0,11.4 C-1.2,12.8 -1.8,14 -2.4,14.9" stroke-width="1.0"/><path d="M2.2,7.3 C0.8,9.4 -0.6,11.6 -2.4,14.9" stroke-width="0.55"/></g>
</g>
</svg></body></html>
